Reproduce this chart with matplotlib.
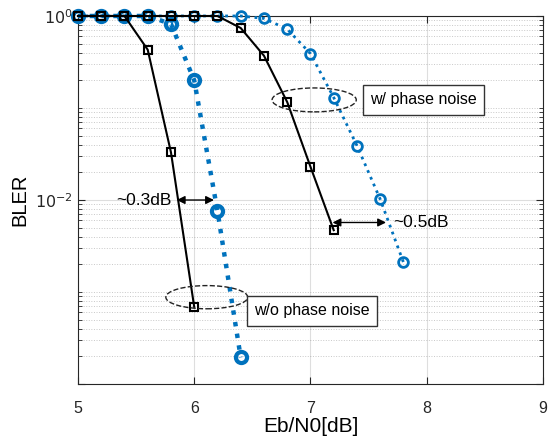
import numpy as np
import matplotlib
matplotlib.use("Agg")
import matplotlib.pyplot as plt
from matplotlib.patches import Ellipse
from matplotlib.ticker import FixedLocator, NullFormatter

plt.rcParams['font.family'] = ['Liberation Sans', 'DejaVu Sans']

# w/o phase noise
x_wo_ideal = [5.0, 5.2, 5.4, 5.6, 5.8, 6.0]
y_wo_ideal = [1.0, 1.0, 1.0, 0.43, 0.033, 6.9e-4]
x_wo_pn = [5.0, 5.2, 5.4, 5.6, 5.8, 6.0, 6.2, 6.4]
y_wo_pn = [1.0, 1.0, 1.0, 1.0, 0.82, 0.2, 7.6e-3, 1.95e-4]

# w/ phase noise
x_w_ideal = [5.0, 5.2, 5.4, 5.6, 5.8, 6.0, 6.2, 6.4, 6.6, 6.8, 7.0, 7.2]
y_w_ideal = [1.0, 1.0, 1.0, 1.0, 1.0, 1.0, 1.0, 0.74, 0.37, 0.116, 0.023, 4.7e-3]
x_w_pn = [5.0, 5.2, 5.4, 5.6, 5.8, 6.0, 6.2, 6.4, 6.6, 6.8, 7.0, 7.2, 7.4, 7.6, 7.8]
y_w_pn = [1.0, 1.0, 1.0, 1.0, 1.0, 1.0, 1.0, 1.0, 0.94, 0.72, 0.39, 0.13, 0.039, 0.0102, 2.1e-3]

blue = '#0072BD'

fig = plt.figure(figsize=(5.49, 4.44), dpi=100)
ax = fig.add_axes([0.142, 0.135, 0.847, 0.829])

ax.plot(x_w_pn, y_w_pn, ':', color=blue, lw=2, marker='o', ms=7, mew=2,
        mfc='none', zorder=3, clip_on=False)
ax.plot(x_w_ideal, y_w_ideal, '-', color='black', lw=1.5, marker='s', ms=6,
        mew=1.5, mfc='none', zorder=4, clip_on=False)
ax.plot(x_wo_pn, y_wo_pn, ':', color=blue, lw=3.2, marker='o', ms=8, mew=3,
        mfc='none', zorder=3, clip_on=False)
ax.plot(x_wo_ideal, y_wo_ideal, '-', color='black', lw=1.5, marker='s', ms=6,
        mew=1.5, mfc='none', zorder=4, clip_on=False)

ax.set_yscale('log')
ax.set_xlim(5, 9)
ax.set_ylim(1e-4, 1)
ax.set_xticks([5, 6, 7, 8, 9])
ax.set_yticks([1e-4, 1e-2, 1])
ax.set_yticklabels(['', r'$10^{-2}$', r'$10^{0}$'])
minors = [m * 10.0 ** e for e in range(-4, 0) for m in range(1, 10)
          if not (m == 1 and e % 2 == 0)]
ax.yaxis.set_minor_locator(FixedLocator(minors))
ax.yaxis.set_minor_formatter(NullFormatter())

ax.grid(True, which='major', color='#262626', alpha=0.15, lw=0.8)
ax.grid(True, which='minor', axis='y', color='#262626', alpha=0.25,
        lw=0.7, linestyle=':')
ax.tick_params(which='both', direction='in', top=True, right=True,
               labelsize=11.5, colors='#262626')
ax.tick_params(which='major', length=5)
ax.tick_params(which='minor', length=3)
ax.tick_params(axis='x', pad=12)
for s in ax.spines.values():
    s.set_color('#262626')
    s.set_linewidth(0.8)
ax.set_axisbelow(True)

ax.set_xlabel('Eb/N0[dB]', fontsize=15, labelpad=1)
ax.set_ylabel('BLER', fontsize=14.5, labelpad=4)

# ellipses and boxes, axes coordinates
ax.add_patch(Ellipse((0.508, 0.772), 0.181, 0.065, transform=ax.transAxes,
                     fill=False, ls='--', lw=1, ec='#222222', zorder=5))
ax.add_patch(Ellipse((0.277, 0.236), 0.176, 0.063, transform=ax.transAxes,
                     fill=False, ls='--', lw=1, ec='#222222', zorder=5))

box = dict(boxstyle='square,pad=0.45', fc='white', ec='#333333', lw=1)
ax.text(0.628, 0.772, 'w/ phase noise', transform=ax.transAxes, fontsize=11.5,
        va='center', ha='left', bbox=box, zorder=6)
ax.text(0.378, 0.199, 'w/o phase noise', transform=ax.transAxes, fontsize=11.5,
        va='center', ha='left', bbox=box, zorder=6)

arrow = dict(arrowstyle='<|-|>', color='black', lw=1, mutation_scale=12,
             shrinkA=0, shrinkB=0)
ax.annotate('', xy=(5.85, 1e-2), xytext=(6.17, 1e-2), arrowprops=arrow, zorder=6)
ax.text(5.81, 1e-2, '~0.3dB', fontsize=12.5, va='center', ha='right')
ax.annotate('', xy=(7.19, 5.7e-3), xytext=(7.65, 5.7e-3), arrowprops=arrow, zorder=6)
ax.text(7.71, 5.7e-3, '~0.5dB', fontsize=12.5, va='center', ha='left')

fig.savefig('out.png', dpi=100)
